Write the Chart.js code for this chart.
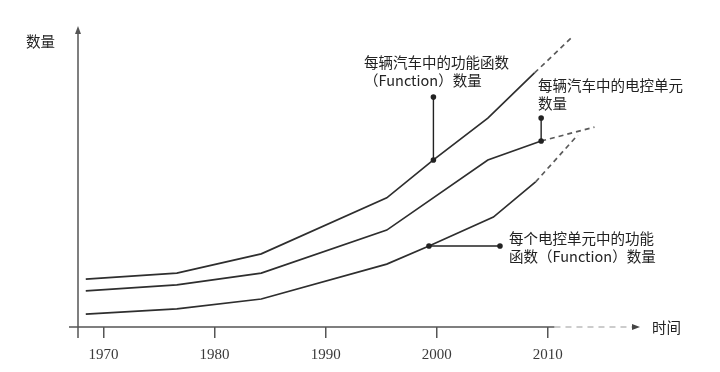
<!DOCTYPE html>
<html>
<head>
<meta charset="utf-8">
<script src="https://cdn.jsdelivr.net/npm/chart.js@4"></script>
<style>
  body { margin: 0; background: #fff; }
  #wrap { width: 720px; height: 372px; }
</style>
</head>
<body>
<div id="wrap"><canvas id="chart"></canvas></div>
<script>
// values (x = year, y = relative amount, 0..100)
const funcYears = [1968.4, 1976.6, 1984.2, 1995.5, 1999.7, 2004.6, 2008.8, 2012.3];
const funcPerCar = [15.9, 17.9, 24.3, 42.9, 55.5, 69.4, 84.4, 96.7];

const ecuYears = [1968.4, 1976.6, 1984.2, 1995.5, 2004.6, 2009.4, 2014.2];
const ecuPerCar = [12.0, 14.0, 17.9, 32.2, 55.5, 61.8, 66.4];

const perEcuYears = [1968.4, 1976.6, 1984.2, 1995.5, 1999.3, 2005.1, 2008.9, 2012.7];
const funcPerEcu = [4.3, 6.0, 9.3, 20.9, 26.9, 36.5, 48.2, 63.8];

const tickYears = [1970, 1980, 1990, 2000, 2010];

const yTitle = '数量';
const xTitle = '时间';
const labelFuncPerCar = ['每辆汽车中的功能函数', '（Function）数量'];
const labelEcuPerCar = ['每辆汽车中的电控单元', '数量'];
const labelFuncPerEcu = ['每个电控单元中的功能', '函数（Function）数量'];

const cjk = '"Noto Sans CJK SC", "Noto Sans", sans-serif';

function pts(xs, ys) {
    return xs.map((v, i) => ({ x: v, y: ys[i] }));
}

function series(xs, ys) {
    const last = xs.length - 1;
    return {
        data: pts(xs, ys),
        borderColor: '#2e2e2e',
        borderWidth: 1.7,
        pointRadius: 0,
        tension: 0,
        segment: {
            borderDash: c => c.p1DataIndex === last ? [5, 4] : undefined,
            borderColor: c => c.p1DataIndex === last ? '#5a5a5a' : undefined
        }
    };
}

// callouts: dataset, point index, offset of the free end, text, text position
const callouts = [
    { ds: 0, idx: 4, dx: 0, dy: -63, lines: labelFuncPerCar, tx: 364, ty: 62 },
    { ds: 1, idx: 5, dx: 0, dy: -23, lines: labelEcuPerCar, tx: 538, ty: 85 },
    { ds: 2, idx: 4, dx: 71, dy: 0, lines: labelFuncPerEcu, tx: 509, ty: 238 }
];

function dot(ctx, x, y) {
    ctx.beginPath();
    ctx.arc(x, y, 2.8, 0, Math.PI * 2);
    ctx.fill();
}

const axesPlugin = {
    id: 'axes',
    beforeDatasetsDraw(chart) {
        const ctx = chart.ctx;
        const xs = chart.scales.x, ys = chart.scales.y;
        const x0 = xs.left, y0 = ys.getPixelForValue(0);
        ctx.save();
        ctx.strokeStyle = '#555';
        ctx.fillStyle = '#555';
        ctx.lineWidth = 1.5;
        // y axis, running a bit below the x axis
        ctx.beginPath();
        ctx.moveTo(x0, y0 + 11);
        ctx.lineTo(x0, ys.top + 4);
        ctx.stroke();
        ctx.beginPath();
        ctx.moveTo(x0, ys.top);
        ctx.lineTo(x0 - 3, ys.top + 8);
        ctx.lineTo(x0 + 3, ys.top + 8);
        ctx.closePath();
        ctx.fill();
        // x axis: solid, then dashed past 2010
        const xSolidEnd = xs.getPixelForValue(2010.6);
        ctx.beginPath();
        ctx.moveTo(x0 - 9, y0);
        ctx.lineTo(xSolidEnd, y0);
        ctx.stroke();
        ctx.setLineDash([6, 5]);
        ctx.strokeStyle = '#999';
        ctx.lineWidth = 1.2;
        ctx.beginPath();
        ctx.moveTo(xSolidEnd, y0);
        ctx.lineTo(xs.right - 4, y0);
        ctx.stroke();
        ctx.setLineDash([]);
        ctx.fillStyle = '#444';
        ctx.beginPath();
        ctx.moveTo(xs.right, y0);
        ctx.lineTo(xs.right - 8, y0 - 3);
        ctx.lineTo(xs.right - 8, y0 + 3);
        ctx.closePath();
        ctx.fill();
        // axis titles
        ctx.fillStyle = '#222';
        ctx.font = '14.5px ' + cjk;
        ctx.textBaseline = 'middle';
        ctx.textAlign = 'left';
        ctx.fillText(yTitle, 26, 41);
        ctx.fillText(xTitle, xs.right + 12, y0);
        ctx.restore();
    },
    afterDatasetsDraw(chart) {
        const ctx = chart.ctx;
        ctx.save();
        ctx.strokeStyle = '#222';
        ctx.fillStyle = '#222';
        ctx.lineWidth = 1.4;
        callouts.forEach(c => {
            const p = chart.getDatasetMeta(c.ds).data[c.idx];
            const ex = p.x + c.dx, ey = p.y + c.dy;
            ctx.beginPath();
            ctx.moveTo(p.x, p.y);
            ctx.lineTo(ex, ey);
            ctx.stroke();
            dot(ctx, p.x, p.y);
            dot(ctx, ex, ey);
        });
        ctx.font = '14.5px ' + cjk;
        ctx.textBaseline = 'middle';
        ctx.textAlign = 'left';
        callouts.forEach(c => {
            c.lines.forEach((t, i) => ctx.fillText(t, c.tx, c.ty + i * 18));
        });
        ctx.restore();
    }
};

new Chart(document.getElementById('chart'), {
    type: 'line',
    data: {
        datasets: [
            series(funcYears, funcPerCar),
            series(ecuYears, ecuPerCar),
            series(perEcuYears, funcPerEcu)
        ]
    },
    options: {
        responsive: true,
        maintainAspectRatio: false,
        animation: false,
        layout: { padding: { left: 78, right: 80, top: 26, bottom: 0 } },
        plugins: {
            legend: { display: false },
            tooltip: { enabled: false }
        },
        scales: {
            x: {
                type: 'linear',
                min: 1967.7,
                max: 2018.3,
                afterBuildTicks: s => { s.ticks = tickYears.map(v => ({ value: v })); },
                afterFit: s => { s.height = 45; },
                ticks: {
                    autoSkip: false,
                    maxRotation: 0,
                    padding: 8,
                    color: '#3a3a3a',
                    font: { family: '"Liberation Serif", serif', size: 15 },
                    callback: v => String(v)
                },
                grid: {
                    drawOnChartArea: false,
                    drawTicks: true,
                    tickLength: 11,
                    color: '#555',
                    lineWidth: 1.5
                },
                border: { display: false }
            },
            y: {
                display: false,
                min: 0,
                max: 100
            }
        }
    },
    plugins: [axesPlugin]
});
</script>
</body>
</html>
